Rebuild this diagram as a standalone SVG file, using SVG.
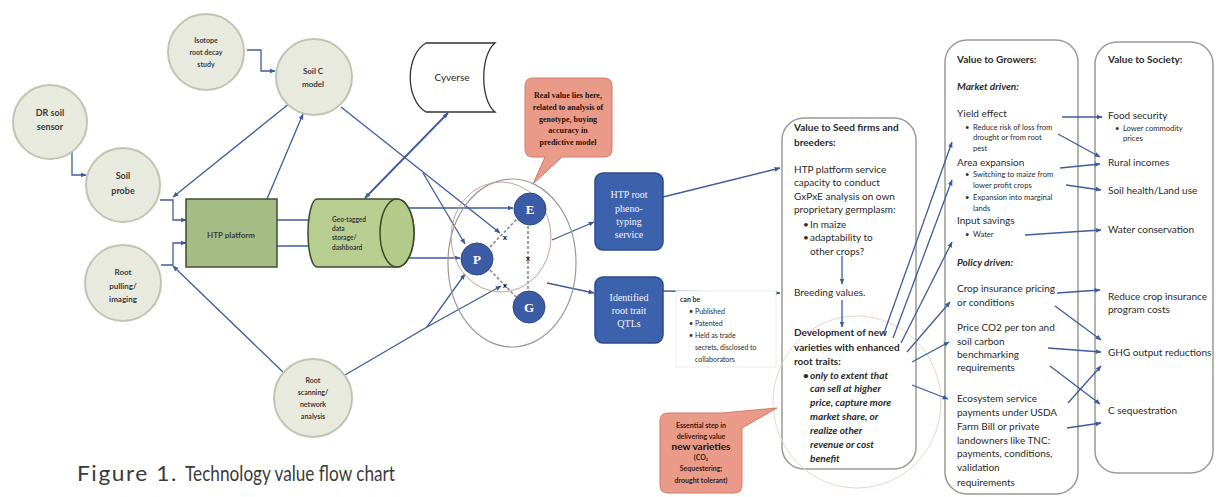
<svg xmlns="http://www.w3.org/2000/svg" width="1220" height="497" viewBox="0 0 1220 497">
<style>
.ln{stroke:#3d5c9e;stroke-width:1.3;fill:none}
.a{marker-end:url(#ah)}
.dl{stroke:#8a8a8a;stroke-width:1.6;fill:none;stroke-dasharray:3 2}
.circ{fill:#e8eae0;stroke:#c0c5b2;stroke-width:2}
.ct{font-family:Lato,"Liberation Sans",sans-serif;font-weight:bold;font-size:8px;fill:#3a3a3a;text-anchor:middle}
.bx{fill:#fff;stroke:#9a9c94;stroke-width:1.5}
.t{font-family:Lato,"Liberation Sans",sans-serif;font-size:10px;fill:#2a2a2a}
.s{font-size:7.6px}
.b{font-weight:bold}
.bi{font-weight:bold;font-style:italic}
.blue{fill:#3c62ae;stroke:#2c4b8a;stroke-width:1.5}
.wt{font-family:"Liberation Serif",serif;font-size:10px;fill:#f4f4f4;text-anchor:middle}
.call{fill:#e99a88;stroke:#cf7a66;stroke-width:1}
.node{fill:#3b5ba5;stroke:#2c4a8a;stroke-width:1}
.nt{font-family:"Liberation Serif",serif;font-weight:bold;font-size:13px;fill:#fff;text-anchor:middle}
.xm{font-family:"Liberation Sans",sans-serif;font-weight:bold;font-size:8px;fill:#111;text-anchor:middle}
</style>
<defs>
<marker id="ah" viewBox="0 0 10 10" refX="9" refY="5" markerWidth="6" markerHeight="6" markerUnits="userSpaceOnUse" orient="auto-start-reverse"><path d="M0,1 L10,5 L0,9 z" fill="#3d5c9e"/></marker>
</defs>
<rect width="1220" height="497" fill="#fff"/>

<g id="seed-box">
<rect class="bx" x="782" y="118" width="134" height="351" rx="22"/>
<ellipse cx="857" cy="402" rx="84" ry="86" fill="none" stroke="#eed3cd" stroke-width="1"/>
<text class="t b" x="794" y="131">Value to Seed firms and</text>
<text class="t b" x="794" y="146">breeders:</text>
<text class="t" x="794" y="173">HTP platform service</text>
<text class="t" x="794" y="186">capacity to conduct</text>
<text class="t" x="794" y="200">GxPxE analysis on own</text>
<text class="t" x="794" y="213">proprietary germplasm:</text>
<text class="t" x="803" y="228">•</text><text class="t" x="810" y="228">In maize</text>
<text class="t" x="803" y="241">•</text><text class="t" x="810" y="241">adaptability to</text>
<text class="t" x="810" y="255">other crops?</text>
<text class="t" x="794" y="296">Breeding values.</text>
<text class="t b" x="794" y="336">Development of new</text>
<text class="t b" x="794" y="351">varieties with enhanced</text>
<text class="t b" x="794" y="365">root traits:</text>
<text class="t bi" x="803" y="379">•</text><text class="t bi" x="810" y="379">only to extent that</text>
<text class="t bi" x="810" y="392">can sell at higher</text>
<text class="t bi" x="810" y="406">price, capture more</text>
<text class="t bi" x="810" y="420">market share, or</text>
<text class="t bi" x="810" y="434">realize other</text>
<text class="t bi" x="810" y="448">revenue or cost</text>
<text class="t bi" x="810" y="462">benefit</text>
</g>

<g id="growers-box">
<rect class="bx" x="945" y="40" width="133" height="454" rx="22"/>
<text class="t b" x="957" y="63">Value to Growers:</text>
<text class="t bi" x="957" y="90">Market driven:</text>
<text class="t" x="957" y="117">Yield effect</text>
<text class="t s" x="965" y="130">•</text><text class="t s" x="973" y="130">Reduce risk of loss from</text>
<text class="t s" x="973" y="140">drought or from root</text>
<text class="t s" x="973" y="151">pest</text>
<text class="t" x="957" y="166">Area expansion</text>
<text class="t s" x="965" y="177">•</text><text class="t s" x="973" y="177">Switching to maize from</text>
<text class="t s" x="973" y="188">lower profit crops</text>
<text class="t s" x="965" y="200">•</text><text class="t s" x="973" y="200">Expansion into marginal</text>
<text class="t s" x="973" y="211">lands</text>
<text class="t" x="957" y="224">Input savings</text>
<text class="t s" x="965" y="237">•</text><text class="t s" x="973" y="237">Water</text>
<text class="t bi" x="957" y="266">Policy driven:</text>
<text class="t" x="957" y="292">Crop insurance pricing</text>
<text class="t" x="957" y="306">or conditions</text>
<text class="t" x="957" y="331">Price CO2 per ton and</text>
<text class="t" x="957" y="345">soil carbon</text>
<text class="t" x="957" y="358">benchmarking</text>
<text class="t" x="957" y="371">requirements</text>
<text class="t" x="957" y="402">Ecosystem service</text>
<text class="t" x="957" y="416">payments under USDA</text>
<text class="t" x="957" y="430">Farm Bill or private</text>
<text class="t" x="957" y="444">landowners like TNC:</text>
<text class="t" x="957" y="457">payments, conditions,</text>
<text class="t" x="957" y="471">validation</text>
<text class="t" x="957" y="486">requirements</text>
</g>

<g id="society-box">
<rect class="bx" x="1095" y="42" width="118" height="431" rx="22"/>
<text class="t b" x="1108" y="63">Value to Society:</text>
<text class="t" x="1108" y="119">Food security</text>
<text class="t s" x="1115" y="131">•</text><text class="t s" x="1123" y="131">Lower commodity</text>
<text class="t s" x="1123" y="141">prices</text>
<text class="t" x="1108" y="166">Rural incomes</text>
<text class="t" x="1108" y="194">Soil health/Land use</text>
<text class="t" x="1108" y="233">Water conservation</text>
<text class="t" x="1108" y="300">Reduce crop insurance</text>
<text class="t" x="1108" y="313">program costs</text>
<text class="t" x="1108" y="356">GHG output reductions</text>
<text class="t" x="1108" y="414">C sequestration</text>
</g>

<g id="connectors">
<path class="ln a" d="M247,50 H261 V71 H275"/>
<path class="ln a" d="M72,151 V175 H86"/>
<path class="ln a" d="M160,200 H173 V220 H186"/>
<path class="ln a" d="M161,265 H173 V243 H186"/>
<path class="ln a" d="M290,103 L173,197"/>
<path class="ln a" d="M283,372 L173,266"/>
<path class="ln a" d="M267,199 L303,114"/>
<path class="ln a" d="M341,107 L500,233"/>
<path class="ln a" d="M423,173 L465,244"/>
<path class="ln a" d="M345,375 L427,327 L465,274"/>
<path class="ln a" d="M427,327 L501,286"/>
<path class="ln a" d="M448,113 L365,198" style="marker-start:url(#ah);stroke-width:1.8"/>
<path class="ln" d="M277,220 H313 V212 H321" style="stroke-width:1.6"/>
<path class="ln" d="M277,246 H313 V254 H321" style="stroke-width:1.6"/>
<path class="ln a" d="M312,208 H513" style="stroke-width:1.6"/>
<path class="ln a" d="M317,258 H460" style="stroke-width:1.6"/>
<path class="dl" d="M490,247 L517,219"/>
<path class="dl" d="M528,226 V291"/>
<path class="dl" d="M490,270 L516,297"/>
<path class="ln a" d="M552,240 L594,222"/>
<path class="ln a" d="M547,283 L594,293"/>
<path class="ln a" d="M663,197 L780,168"/>
<path class="ln a" d="M663,291 L780,293"/>
<path class="ln a" d="M842,256 V284"/>
<path class="ln a" d="M842,300 V327"/>
<path class="ln a" d="M884,333 L952,142"/>
<path class="ln a" d="M893,338 L952,180"/>
<path class="ln a" d="M901,343 L952,242"/>
<path class="ln a" d="M907,352 L950,302"/>
<path class="ln a" d="M912,362 L949,342"/>
<path class="ln a" d="M912,385 L948,399"/>
<path class="ln a" d="M1062,117 L1102,117"/>
<path class="ln a" d="M1058,134 L1100,157"/>
<path class="ln a" d="M1060,168 L1100,164"/>
<path class="ln a" d="M1066,185 L1101,190"/>
<path class="ln a" d="M1025,235 L1101,230"/>
<path class="ln a" d="M1057,293 L1100,290"/>
<path class="ln a" d="M1055,306 L1101,340"/>
<path class="ln a" d="M1048,348 L1101,352"/>
<path class="ln a" d="M1068,403 L1101,366"/>
<path class="ln a" d="M1050,366 L1100,404"/>
<path class="ln a" d="M1067,428 L1101,423"/>
</g>

<g id="isotope"><circle class="circ" cx="206" cy="52" r="38"/>
<text class="ct" style="font-size:7px" x="206" y="43">Isotope</text><text class="ct" style="font-size:7px" x="206" y="55">root decay</text><text class="ct" style="font-size:7px" x="206" y="67">study</text></g>
<g id="soil-c"><circle class="circ" cx="314" cy="77" r="38"/>
<text class="ct" x="313" y="74">Soil C</text><text class="ct" x="313" y="87">model</text></g>
<g id="dr-sensor"><circle class="circ" cx="50" cy="122" r="37"/>
<text class="ct" style="font-size:9px" x="50" y="116">DR soil</text><text class="ct" style="font-size:9px" x="50" y="130">sensor</text></g>
<g id="soil-probe"><circle class="circ" cx="123" cy="185" r="37"/>
<text class="ct" style="font-size:9px" x="123" y="179">Soil</text><text class="ct" style="font-size:9px" x="123" y="194">probe</text></g>
<g id="root-pulling"><circle class="circ" cx="123" cy="283" r="38"/>
<text class="ct" x="123" y="275">Root</text><text class="ct" x="123" y="289">pulling/</text><text class="ct" x="123" y="302">imaging</text></g>
<g id="root-scanning"><circle class="circ" cx="313" cy="398" r="39"/>
<text class="ct" style="font-size:7px" x="313" y="383">Root</text><text class="ct" style="font-size:7px" x="313" y="395">scanning/</text><text class="ct" style="font-size:7px" x="313" y="407">network</text><text class="ct" style="font-size:7px" x="313" y="419">analysis</text></g>

<g id="htp-platform"><rect x="186" y="199" width="91" height="68" fill="#a6bd86" stroke="#3f4f30" stroke-width="1.5"/>
<text class="ct" x="231" y="238">HTP platform</text></g>

<g id="storage">
<path d="M317,199 H397 A17,34 0 0 1 397,267 H317 A9,34 0 0 1 317,199 Z" fill="#b8ce90" stroke="#3a4a28" stroke-width="1.5"/>
<ellipse cx="397" cy="233" rx="17" ry="34" fill="#b3ca8a" stroke="#3a4a28" stroke-width="1.5"/>
<text class="ct" style="font-size:6.5px;text-anchor:start" x="332" y="222">Geo-tagged</text>
<text class="ct" style="font-size:6.5px;text-anchor:start" x="332" y="231">data</text>
<text class="ct" style="font-size:6.5px;text-anchor:start" x="332" y="240">storage/</text>
<text class="ct" style="font-size:6.5px;text-anchor:start" x="332" y="250">dashboard</text>
</g>

<g id="cyverse">
<path d="M426,43 H495 C480,55 480,100 495,112 H426 C405,100 405,55 426,43 Z" fill="#fff" stroke="#333" stroke-width="1.3"/>
<text class="t" style="font-size:10px;text-anchor:middle" x="452" y="81">Cyverse</text>
</g>

<g id="real-value-callout">
<path class="call" d="M533,78 H604 Q612,78 612,86 V149 Q612,157 604,157 H562 L533,184 L545,157 H533 Q525,157 525,149 V86 Q525,78 533,78 Z"/>
<g font-family="Liberation Serif,serif" font-weight="bold" font-size="8px" fill="#2a1208" text-anchor="middle">
<text x="568" y="98">Real value lies here,</text>
<text x="568" y="110">related to analysis of</text>
<text x="568" y="122">genotype, buying</text>
<text x="568" y="133">accuracy in</text>
<text x="568" y="145">predictive model</text>
</g></g>

<g id="gxe-ellipse">
<ellipse cx="512" cy="263" rx="64" ry="84" fill="none" stroke="#9a9a9a" stroke-width="1.2"/>
<ellipse cx="501" cy="237" rx="50" ry="55" fill="none" stroke="#c9a39a" stroke-width="1"/>
</g>
<g id="node-E"><circle class="node" cx="530" cy="209" r="16"/><text class="nt" x="530" y="214">E</text></g>
<g id="node-P"><circle class="node" cx="477" cy="259" r="16"/><text class="nt" x="477" y="264">P</text></g>
<g id="node-G"><circle class="node" cx="529" cy="307" r="16"/><text class="nt" x="529" y="312">G</text></g>
<g id="x-marks">
<text class="xm" x="505" y="240">x</text>
<text class="xm" x="528" y="261">x</text>
<text class="xm" x="505" y="288">x</text>
</g>

<g id="htp-service"><rect class="blue" x="595" y="173" width="68" height="77" rx="8"/>
<text class="wt" x="629" y="198">HTP root</text><text class="wt" x="629" y="212">pheno-</text><text class="wt" x="629" y="225">typing</text><text class="wt" x="629" y="238">service</text></g>
<g id="qtl"><rect class="blue" x="595" y="277" width="68" height="66" rx="8"/>
<text class="wt" x="629" y="301">Identified</text><text class="wt" x="629" y="314">root trait</text><text class="wt" x="629" y="327">QTLs</text></g>

<g id="can-be">
<rect x="676" y="291" width="100" height="76" fill="#fff" stroke="#ececec" stroke-width="1"/>
<text class="t b" style="font-size:7px" x="680" y="302">can be</text>
<text class="t" style="font-size:7px" x="689" y="314">•</text><text class="t" style="font-size:7px" x="695" y="314">Published</text>
<text class="t" style="font-size:7px" x="689" y="326">•</text><text class="t" style="font-size:7px" x="695" y="326">Patented</text>
<text class="t" style="font-size:7px" x="689" y="338">•</text><text class="t" style="font-size:7px" x="695" y="338">Held as trade</text>
<text class="t" style="font-size:7px" x="695" y="350">secrets, disclosed to</text>
<text class="t" style="font-size:7px" x="695" y="362">collaborators</text>
</g>

<g id="essential-callout">
<path class="call" d="M668,413 H722 L777,408 L742,428 V485 Q742,493 734,493 H668 Q660,493 660,485 V421 Q660,413 668,413 Z"/>
<g font-family="Lato,Liberation Sans,sans-serif" font-weight="bold" font-size="7px" fill="#3a1a10" text-anchor="middle">
<text x="701" y="428">Essential step in</text>
<text x="701" y="439">delivering value</text>
<text x="701" y="450" font-size="10px" fill="#111">new varieties</text>
<text x="701" y="460">(CO₂</text>
<text x="701" y="471">Sequestering;</text>
<text x="701" y="483">drought tolerant)</text>
</g></g>

<g id="caption" font-family="Lato,Liberation Sans,sans-serif" font-size="21.5px" fill="#3a3a3a">
<text x="77" y="481" letter-spacing="1.5" textLength="101" lengthAdjust="spacingAndGlyphs">Figure 1.</text>
<text x="185" y="481" textLength="210" lengthAdjust="spacingAndGlyphs">Technology value flow chart</text>
</g>
</svg>
